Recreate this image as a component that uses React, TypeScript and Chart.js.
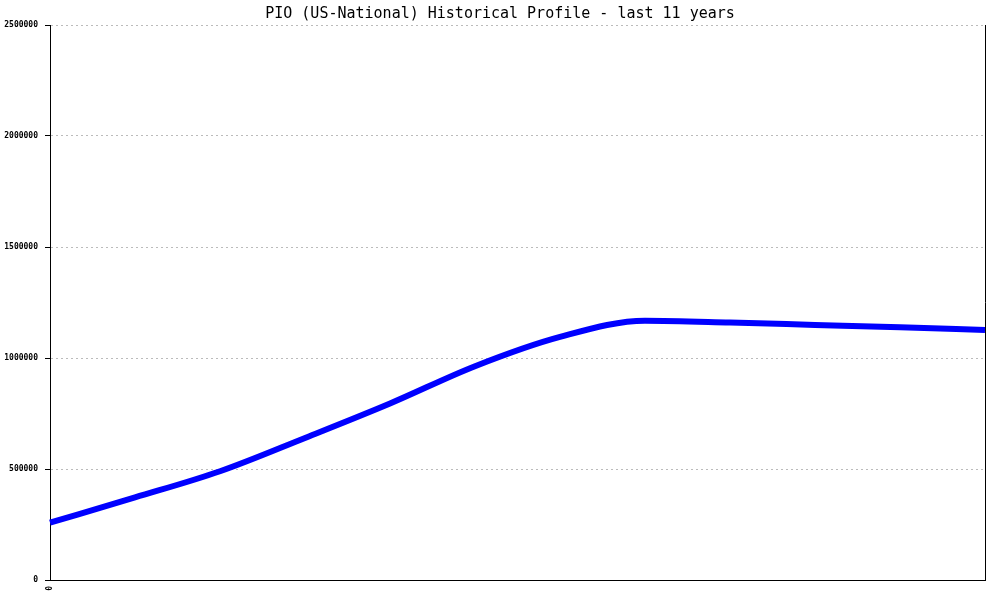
import React, { useEffect, useRef } from "react";
import { Chart, registerables } from "chart.js";

Chart.register(...registerables);

const titleText = "PIO (US-National) Historical Profile - last 11 years";
const xLabels = ["0", "", "", "", "", "", "", "", "", "", "", ""];
const profileValues = [258000, 372000, 490000, 640000, 795000, 963000, 1095000, 1168000, 1160000, 1149000, 1138000, 1126000];
const yMax = 2500000;
const yStep = 500000;

const framePlugin = {
  id: "frame",
  afterDraw(chart: any) {
    const { ctx, chartArea } = chart;
    ctx.save();
    ctx.strokeStyle = "#000000";
    ctx.lineWidth = 1;
    ctx.beginPath();
    ctx.moveTo(Math.round(chartArea.right) + 0.5, chartArea.top);
    ctx.lineTo(Math.round(chartArea.right) + 0.5, chartArea.bottom);
    ctx.stroke();
    ctx.font = "15px 'DejaVu Sans Mono'";
    ctx.fillStyle = "#000000";
    ctx.textAlign = "center";
    ctx.textBaseline = "alphabetic";
    ctx.fillText(titleText, 500, 18);
    ctx.restore();
  },
};

export default function App() {
  const ref = useRef<HTMLCanvasElement>(null);
  useEffect(() => {
    if (!ref.current) return;
    const chart = new Chart(ref.current, {
      type: "line",
      data: {
        labels: xLabels,
        datasets: [
          {
            data: profileValues,
            borderColor: "#0000ff",
            backgroundColor: "#0000ff",
            borderWidth: 6,
            pointRadius: 0,
            cubicInterpolationMode: "monotone",
            fill: false,
          },
        ],
      },
      options: {
        animation: false,
        responsive: false,
        maintainAspectRatio: false,
        layout: { padding: { top: 25, right: 15, left: 0, bottom: 0 } },
        plugins: { legend: { display: false }, tooltip: { enabled: false }, title: { display: false } },
        scales: {
          x: {
            type: "category",
            offset: false,
            grid: { display: false, drawTicks: true, tickLength: 4, tickColor: "#000" },
            border: { display: true, color: "#000", width: 1 },
            ticks: {
              autoSkip: false,
              maxRotation: 90,
              minRotation: 90,
              padding: 2,
              color: "#000",
              font: { family: "'DejaVu Sans Mono'", size: 8, weight: "bold" },
            },
            afterFit: (s: any) => {
              s.height = 20;
            },
          },
          y: {
            min: 0,
            max: yMax,
            ticks: {
              stepSize: yStep,
              padding: 7,
              color: "#000",
              font: { family: "'DejaVu Sans Mono'", size: 8, weight: "bold" },
              callback: (v: any) => String(v),
            },
            grid: {
              color: "#bbbbbb",
              lineWidth: 1,
              tickLength: 5,
              tickColor: "#000000",
              tickBorderDash: [],
            },
            border: { display: true, color: "#000", width: 1, dash: [2, 3] },
            afterFit: (s: any) => {
              s.width = 50;
            },
          },
        },
      },
      plugins: [framePlugin],
    });
    return () => chart.destroy();
  }, []);
  return (
    <div style={{ position: "fixed", left: 0, top: 0, width: 1000, height: 600, background: "#fff" }}>
      <canvas ref={ref} width={1000} height={600} />
    </div>
  );
}
